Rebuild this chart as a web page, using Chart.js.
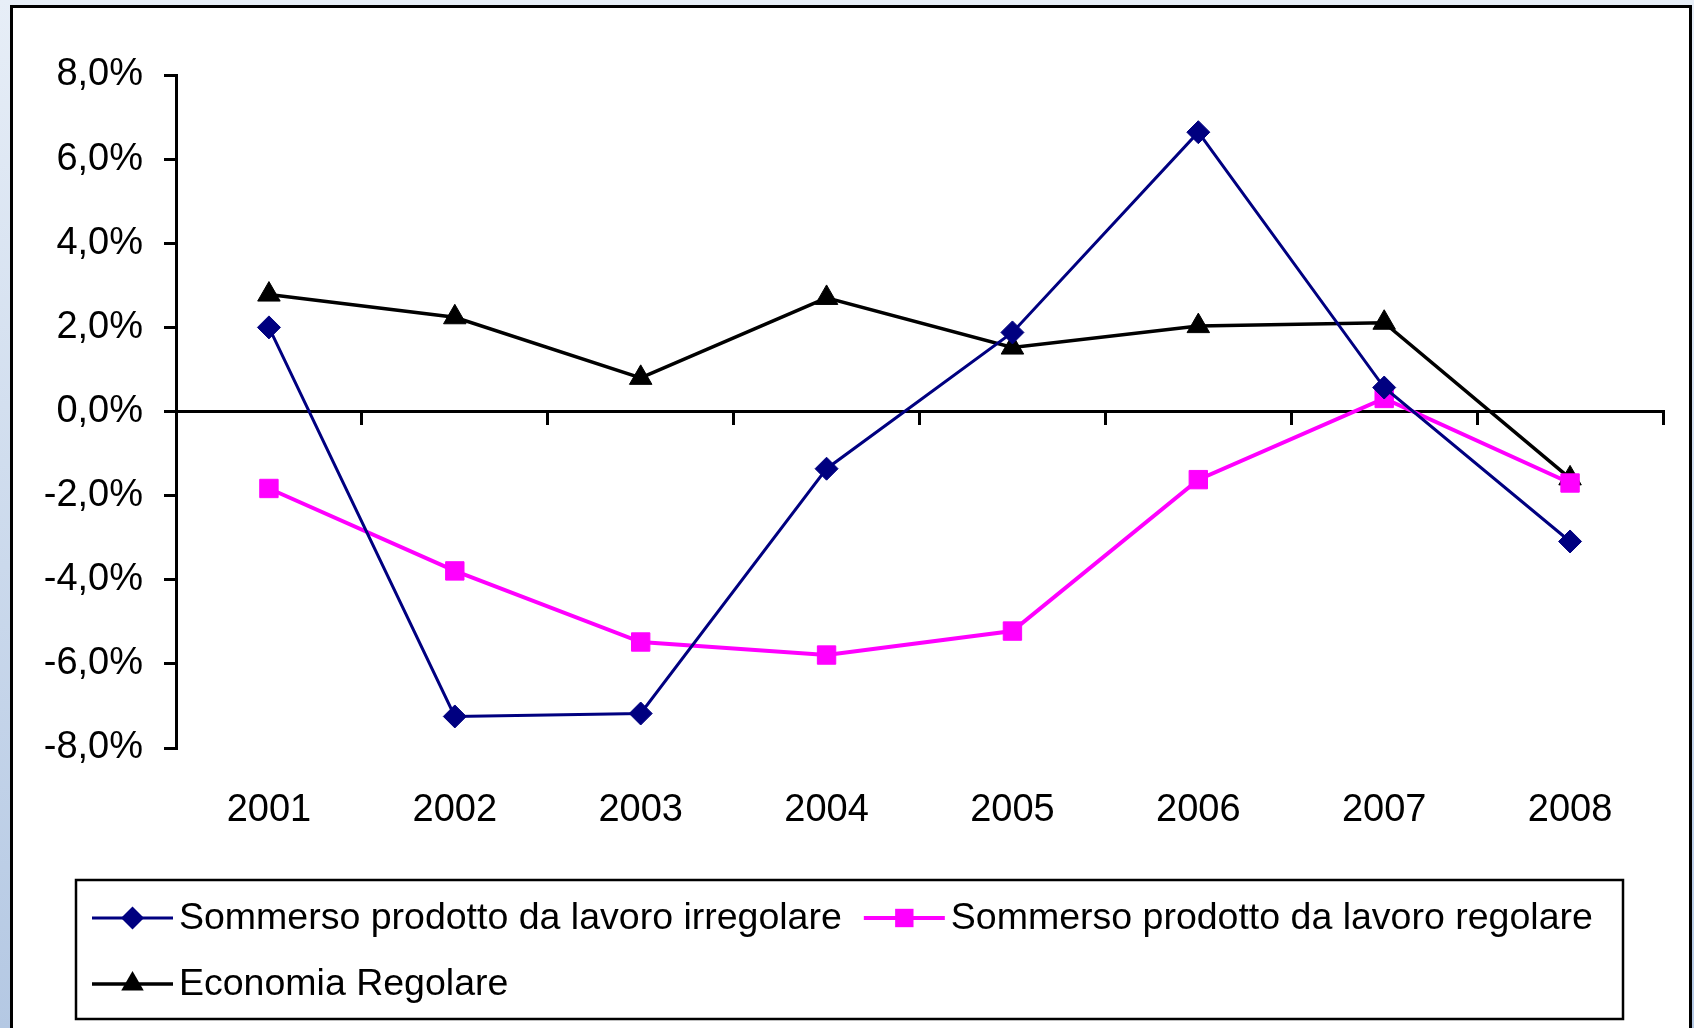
<!DOCTYPE html>
<html>
<head>
<meta charset="utf-8">
<title>Sommerso economico 2001-2008</title>
<script src="https://cdn.jsdelivr.net/npm/chart.js@4.4.1/dist/chart.umd.min.js"></script>
<style>
    html, body {
        margin: 0;
        padding: 0;
        width: 1694px;
        height: 1028px;
        overflow: hidden;
        background: linear-gradient(to bottom, #e7eef7 0%, #b4c8e3 100%);
    }
    #frame {
        position: absolute;
        left: 10px;
        top: 5px;
        width: 1676px;
        height: 1040px;
        border: 3px solid #000;
        background: #fff;
    }
    #frame canvas { display: block; }
</style>
</head>
<body>
<div id="frame"><canvas id="chart" width="1676" height="1020"></canvas></div>
<script>
// Data (growth rates, %)
const years = ['2001', '2002', '2003', '2004', '2005', '2006', '2007', '2008'];
const lavoroIrregolare = [2.0, -7.25, -7.18, -1.36, 1.88, 6.64, 0.57, -3.09];
const lavoroRegolare = [-1.83, -3.79, -5.48, -5.79, -5.22, -1.62, 0.31, -1.70];
const economiaRegolare = [2.78, 2.24, 0.80, 2.70, 1.52, 2.03, 2.11, -1.59];
const seriesNames = [
    'Sommerso prodotto da lavoro irregolare',
    'Sommerso prodotto da lavoro regolare',
    'Economia Regolare'
];
const yMin = -8;
const yMax = 8;
const yStep = 2;

const FONT = { family: "'Liberation Sans', Arial, sans-serif", size: 38 };
const LEGEND_FONT_SIZE = 37.5;

// Italian style percent label, e.g. "-2,0%"
function formatPercent(value) {
    return value.toFixed(1).replace('.', ',') + '%';
}

// small marker for the legend, same shapes as the datasets
function drawMarker(ctx, style, x, y, r, color) {
    ctx.save();
    ctx.fillStyle = color;
    ctx.beginPath();
    if (style === 'rectRot') {
        ctx.moveTo(x - r, y);
        ctx.lineTo(x, y - r);
        ctx.lineTo(x + r, y);
        ctx.lineTo(x, y + r);
    } else if (style === 'rect') {
        const s = Math.SQRT1_2 * r;
        ctx.rect(x - s, y - s, 2 * s, 2 * s);
    } else {
        const h = Math.sqrt(3) / 2 * r;
        ctx.moveTo(x, y - r);
        ctx.lineTo(x + h, y + r / 2);
        ctx.lineTo(x - h, y + r / 2);
    }
    ctx.closePath();
    ctx.fill();
    ctx.restore();
}

// Legend drawn in a framed box below the plot, Excel style
const boxedLegend = {
    id: 'boxedLegend',
    afterDraw(chart) {
        const ctx = chart.ctx;
        const box = { left: 63, top: 872, right: 1610, bottom: 1011 };
        const rows = [[0, 1], [2]];
        const rowY = [910, 976];
        const lineLen = 81;
        const textGap = 87;
        const itemGap = 22;

        ctx.save();
        ctx.strokeStyle = '#000';
        ctx.lineWidth = 2.5;
        ctx.strokeRect(box.left, box.top, box.right - box.left, box.bottom - box.top);

        ctx.font = `${LEGEND_FONT_SIZE}px ${FONT.family}`;
        ctx.textBaseline = 'middle';
        ctx.textAlign = 'left';

        rows.forEach((row, r) => {
            let x = 79;
            const y = rowY[r];
            row.forEach(i => {
                const ds = chart.data.datasets[i];
                ctx.strokeStyle = ds.borderColor;
                ctx.lineWidth = ds.borderWidth;
                ctx.beginPath();
                ctx.moveTo(x, y);
                ctx.lineTo(x + lineLen, y);
                ctx.stroke();
                drawMarker(ctx, ds.pointStyle, x + lineLen / 2, y, ds.pointRadius, ds.pointBackgroundColor);
                ctx.fillStyle = '#000';
                ctx.fillText(ds.label, x + textGap, y + 1);
                x += textGap + ctx.measureText(ds.label).width + itemGap;
            });
        });
        ctx.restore();
    }
};

const ctx = document.getElementById('chart').getContext('2d');

new Chart(ctx, {
    type: 'line',
    data: {
        labels: years,
        datasets: [
            {
                label: seriesNames[0],
                data: lavoroIrregolare,
                borderColor: '#000080',
                backgroundColor: '#000080',
                pointBackgroundColor: '#000080',
                pointBorderColor: '#000080',
                borderWidth: 3,
                pointStyle: 'rectRot',
                pointRadius: 11.5,
                pointBorderWidth: 1,
                tension: 0
            },
            {
                label: seriesNames[1],
                data: lavoroRegolare,
                borderColor: '#ff00ff',
                backgroundColor: '#ff00ff',
                pointBackgroundColor: '#ff00ff',
                pointBorderColor: '#ff00ff',
                borderWidth: 4,
                pointStyle: 'rect',
                pointRadius: 13,
                pointBorderWidth: 1,
                tension: 0
            },
            {
                label: seriesNames[2],
                data: economiaRegolare,
                borderColor: '#000000',
                backgroundColor: '#000000',
                pointBackgroundColor: '#000000',
                pointBorderColor: '#000000',
                borderWidth: 3.5,
                pointStyle: 'triangle',
                pointRadius: 13,
                pointBorderWidth: 1,
                tension: 0
            }
        ]
    },
    options: {
        responsive: false,
        animation: false,
        layout: {
            padding: { top: 67, left: 0, right: 26, bottom: 180 }
        },
        plugins: {
            legend: { display: false },
            tooltip: { enabled: false }
        },
        scales: {
            x: {
                type: 'category',
                position: 'bottom',
                offset: true,
                border: { display: false },
                grid: { display: false, drawTicks: false },
                ticks: {
                    color: '#000',
                    font: FONT,
                    padding: 40,
                    maxRotation: 0
                },
                afterFit(scale) { scale.height = 100; }
            },
            // zero line with the category tick marks
            x2: {
                type: 'category',
                position: { y: 0 },
                offset: true,
                border: { display: true, color: '#000', width: 3 },
                grid: {
                    offset: true,
                    drawOnChartArea: false,
                    drawTicks: true,
                    tickLength: 12,
                    color: '#000',
                    lineWidth: 3
                },
                ticks: { display: false }
            },
            y: {
                min: yMin,
                max: yMax,
                border: { display: true, color: '#000', width: 3 },
                grid: {
                    drawOnChartArea: false,
                    drawTicks: true,
                    tickLength: 12,
                    color: '#000',
                    lineWidth: 3
                },
                ticks: {
                    stepSize: yStep,
                    color: '#000',
                    font: FONT,
                    padding: 21,
                    callback: value => formatPercent(value)
                },
                afterFit(scale) { scale.width = 163; }
            }
        }
    },
    plugins: [boxedLegend]
});
</script>
</body>
</html>
